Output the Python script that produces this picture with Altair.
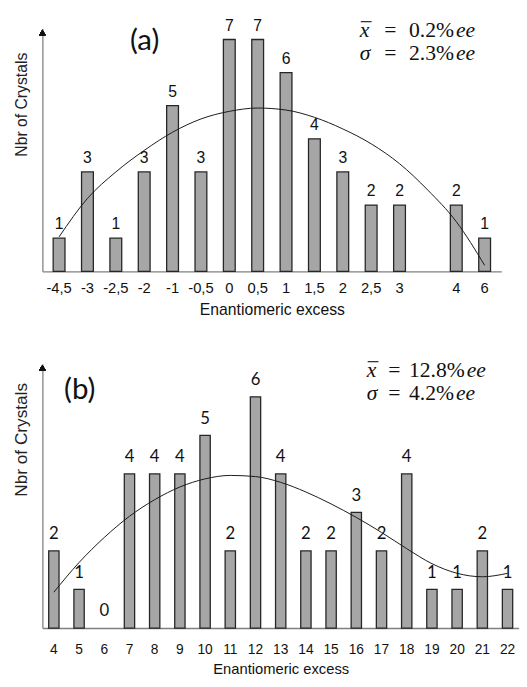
import altair as alt
import pandas as pd

# ---------------- Panel (a) data ----------------
a_categories = ["-4,5", "-3", "-2,5", "-2", "-1", "-0,5", "0", "0,5", "1", "1,5",
                "2", "2,5", "3", " ", "4", "6"]
a_counts = [1, 3, 1, 3, 5, 3, 7, 7, 6, 4, 3, 2, 2, None, 2, 1]
a_fit = [1.04, 2.2, 3.0, 3.65, 4.2, 4.6, 4.83, 4.93, 4.87, 4.65, 4.3, 3.85,
         3.25, 2.45, 1.5, 0.18]
a_stats = ["0.2", "2.3"]      # mean, sigma (%ee)
a_tag = "(a)"

# ---------------- Panel (b) data ----------------
b_categories = ["4", "5", "6", "7", "8", "9", "10", "11", "12", "13", "14", "15",
                "16", "17", "18", "19", "20", "21", "22"]
b_counts = [2, 1, 0, 4, 4, 4, 5, 2, 6, 4, 2, 2, 3, 2, 4, 1, 1, 2, 1]
b_fit = [0.93, 1.7, 2.35, 2.9, 3.33, 3.66, 3.87, 3.96, 3.93, 3.78, 3.53, 3.22,
         2.87, 2.48, 2.06, 1.67, 1.42, 1.33, 1.42]
b_stats = ["12.8", "4.2"]     # mean, sigma (%ee)
b_tag = "(b)"

AXIS_GRAY = "#808080"
BAR_FILL = "#a6a6a6"
BAR_STROKE = "#262626"
SERIF = "Liberation Serif"
MATH_SIZE = 22
TIMES_W = {".": 0.25, "%": 0.833}


def est_width(s, size):
    return sum(TIMES_W.get(ch, 0.5) for ch in s) * size


def txt(s, x, y, size, font, style="normal", align="left", baseline="alphabetic"):
    return alt.Chart(pd.DataFrame({"t": [s]})).mark_text(
        font=font, fontSize=size, fontStyle=style, align=align, baseline=baseline,
        color="#111").encode(x=alt.value(x), y=alt.value(y), text="t:N")


def stats_layers(stats, x0, dx_eq, dx_num, y1, y2):
    layers = []
    for var, num, y, bar in (("x", stats[0], y1, True), ("\u03c3", stats[1], y2, False)):
        layers.append(txt(var, x0, y, MATH_SIZE, SERIF, "italic"))
        if bar:
            layers.append(alt.Chart(pd.DataFrame({"k": [0]})).mark_rule(
                color="#111", strokeWidth=1.1).encode(
                x=alt.value(x0 + 1), x2=alt.value(x0 + 12), y=alt.value(y - 16)))
        layers.append(txt("=", x0 + dx_eq, y, MATH_SIZE, SERIF))
        numtxt = num + "%"
        layers.append(txt(numtxt, x0 + dx_num, y, MATH_SIZE, SERIF))
        layers.append(txt("ee", x0 + dx_num + est_width(numtxt, MATH_SIZE) + 2, y,
                          MATH_SIZE, SERIF, "italic"))
    return layers


def panel(cats, counts, fit, stats, tag, ymax, width, height, p_in, p_out,
          lab_font, lab_size, lab_dy, tick_size, tick_pad, xtitle_size, xtitle_pad,
          ytitle_size, stats_pos, tag_x, tag_y):
    df = pd.DataFrame({"cat": cats, "count": counts, "fit": fit})
    xaxis = alt.Axis(title="Enantiomeric excess", labelAngle=0, ticks=False,
                     tickSize=0, domainColor=AXIS_GRAY, domainWidth=1.3,
                     labelFont="Liberation Sans", labelFontSize=tick_size,
                     labelColor="#111", labelPadding=tick_pad,
                     titleFont="Liberation Sans", titleFontSize=xtitle_size,
                     titleFontWeight="normal", titleColor="#111",
                     titlePadding=xtitle_pad)
    yaxis = alt.Axis(title="Nbr of Crystals", labels=False, ticks=False,
                     grid=False, domainColor=AXIS_GRAY, domainWidth=1.3,
                     titleX=-21, titleY=77, titleAngle=-90,
                     titleBaseline="middle", titleAlign="center",
                     titleFont="Liberation Sans", titleFontSize=ytitle_size,
                     titleFontWeight="normal", titleColor="#222")
    xscale = alt.Scale(domain=cats, paddingInner=p_in, paddingOuter=p_out)
    yscale = alt.Scale(domain=[0, ymax], nice=False)
    xs = alt.X("cat:N", sort=cats, bandPosition=0.5, scale=xscale, axis=xaxis)
    base = alt.Chart(df)
    bars = base.transform_filter("datum.count > 0").mark_bar(
        color=BAR_FILL, stroke=BAR_STROKE, strokeWidth=1.3
    ).encode(x=alt.X("cat:N", sort=cats, scale=xscale, axis=xaxis),
             y=alt.Y("count:Q", scale=yscale, axis=yaxis))
    labels = base.transform_filter("isValid(datum.count)").mark_text(
        font=lab_font, fontSize=lab_size, dy=lab_dy, baseline="alphabetic",
        color="#111"
    ).encode(x=xs, y=alt.Y("count:Q"), text=alt.Text("count:Q"))
    curve = base.mark_line(color="#1a1a1a", strokeWidth=1, interpolate="monotone").encode(
        x=xs, y=alt.Y("fit:Q"))
    arrow = base.mark_point(shape="triangle-up", filled=True, size=40,
                            color="#111", opacity=1).encode(
        x=alt.value(0), y=alt.value(4))
    t = txt(tag, tag_x, tag_y, 30, "Lato", align="center", baseline="middle")
    layers = [bars, curve, labels, arrow, t] + stats_layers(stats, *stats_pos)
    return alt.layer(*layers).properties(width=width, height=height)


pa = panel(a_categories, a_counts, a_fit, a_stats, a_tag, 7.33, 467, 247, 0.584, 0.38,
           "Liberation Sans", 16, -9, 15, 10, 16, 6, 16,
           (323, 25, 50, 9, 32), 104, 13)
pb = panel(b_categories, b_counts, b_fit, b_stats, b_tag, 6.86, 485, 269, 0.59, 0.25,
           "Lato", 17, -12, 14, 15, 15, 5, 17.5,
           (330, 22, 43, 14, 37), 38, 27)

chart = alt.vconcat(pa, pb, spacing=94, bounds="flush").properties(
    padding={"left": 5, "top": 4, "right": 0, "bottom": 0}
).configure_view(stroke=None).resolve_scale(x="independent", y="independent")

chart.save("out.html", embed_options={"renderer": "svg", "actions": False})
